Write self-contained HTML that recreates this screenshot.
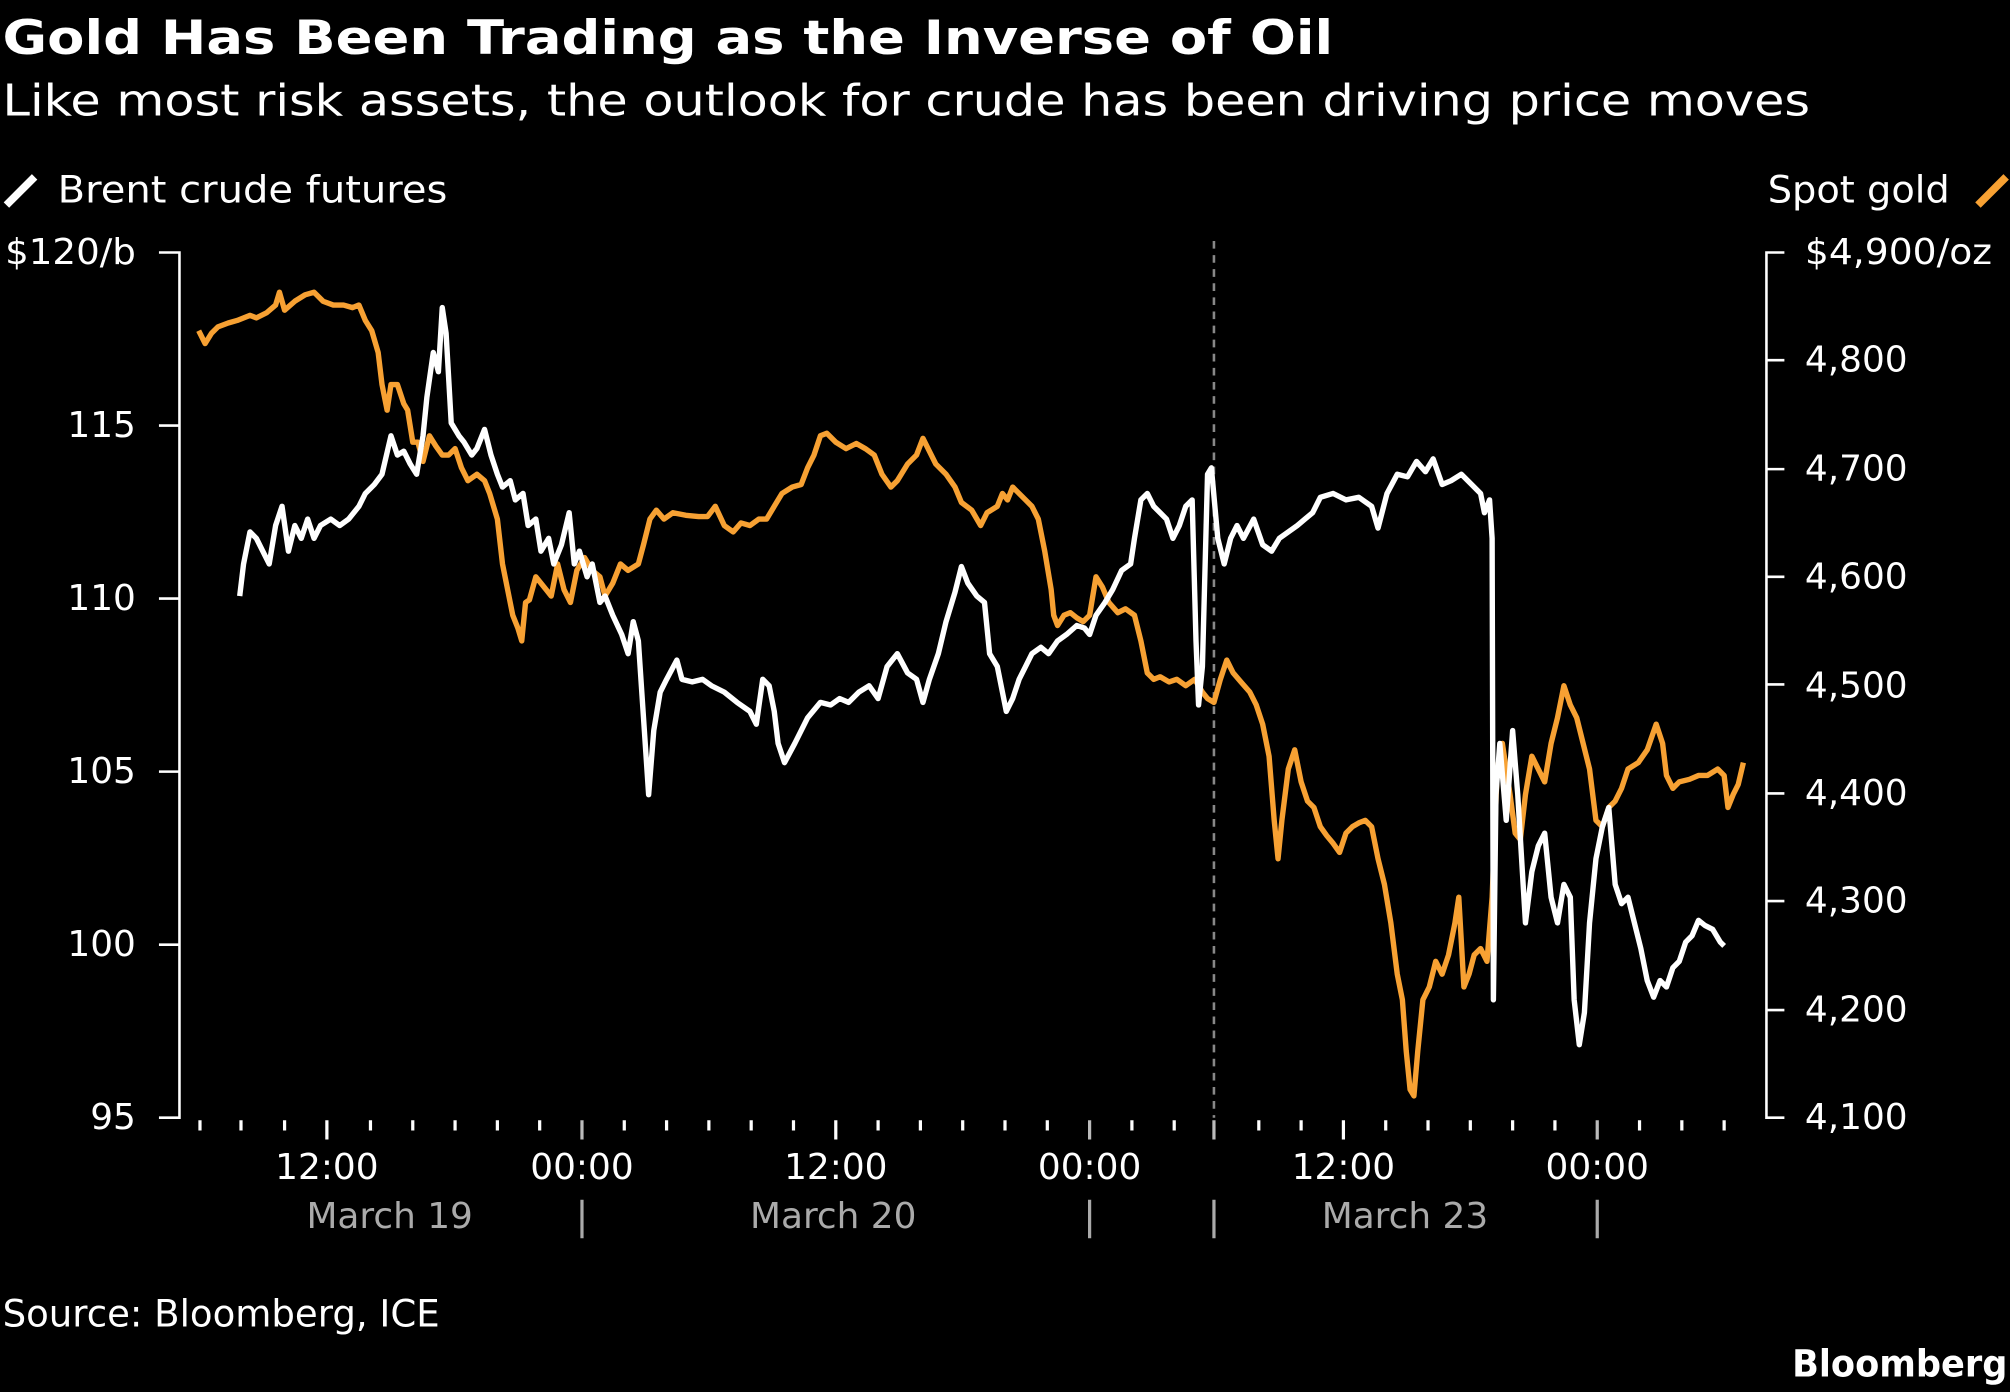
<!DOCTYPE html>
<html><head><meta charset="utf-8"><style>
html,body{margin:0;padding:0;background:#000;width:2010px;height:1392px;overflow:hidden}
svg{display:block}
text{font-family:"DejaVu Sans","Liberation Sans",sans-serif;fill:#fff}
</style></head><body>
<svg width="2010" height="1392" viewBox="0 0 1568 1086" preserveAspectRatio="none" xmlns="http://www.w3.org/2000/svg">
<rect width="1568" height="1086" fill="#000"/>
<text x="2" y="42" font-size="37" font-weight="bold" textLength="1038" lengthAdjust="spacingAndGlyphs">Gold Has Been Trading as the Inverse of Oil</text>
<text x="2" y="90" font-size="34" textLength="1410" lengthAdjust="spacingAndGlyphs">Like most risk assets, the outlook for crude has been driving price moves</text>
<line x1="5" y1="160" x2="27" y2="138" stroke="#fff" stroke-width="6"/>
<text x="45" y="158" font-size="29" textLength="304" lengthAdjust="spacingAndGlyphs">Brent crude futures</text>
<text x="1379" y="158" font-size="29" textLength="142" lengthAdjust="spacingAndGlyphs">Spot gold</text>
<line x1="1543" y1="160" x2="1565" y2="138" stroke="#f7a133" stroke-width="6"/>
<g font-size="28">
<text x="4" y="206" textLength="102" lengthAdjust="spacingAndGlyphs">$120/b</text>
<text x="106" y="341" text-anchor="end">115</text>
<text x="106" y="476" text-anchor="end">110</text>
<text x="106" y="611" text-anchor="end">105</text>
<text x="106" y="746" text-anchor="end">100</text>
<text x="106" y="881" text-anchor="end">95</text>
<text x="1408" y="206" textLength="146" lengthAdjust="spacingAndGlyphs">$4,900/oz</text>
<text x="1408" y="290">4,800</text>
<text x="1408" y="375">4,700</text>
<text x="1408" y="459">4,600</text>
<text x="1408" y="544">4,500</text>
<text x="1408" y="628">4,400</text>
<text x="1408" y="712">4,300</text>
<text x="1408" y="797">4,200</text>
<text x="1408" y="881">4,100</text>
</g>
<g stroke="#fff" stroke-width="2" fill="none">
<path d="M124 197H140V872H124M124 332H140M124 467H140M124 602H140M124 737H140"/>
<path d="M1392 197H1378V872H1392M1378 281H1392M1378 366H1392M1378 450H1392M1378 534H1392M1378 619H1392M1378 703H1392M1378 788H1392"/>
</g>
<g stroke="#fff" stroke-width="2.5">
<path d="M156 874v8M188 874v8M222 874v8M289 874v8M322 874v8M355 874v8M388 874v8M421 874v8M487 874v8M520 874v8M553 874v8M586 874v8M619 874v8M685 874v8M718 874v8M751 874v8M784 874v8M817 874v8M883 874v8M916 874v8M982 874v8M1015 874v8M1081 874v8M1114 874v8M1147 874v8M1180 874v8M1213 874v8M1279 874v8M1312 874v8M1345 874v8"/>
<path d="M255 874v15M652 874v15M1048 874v15"/>
<path d="M454 874v15M850 874v15M947 874v15M1246 874v15" stroke="#bbb"/>
</g>
<line x1="947" y1="188" x2="947" y2="872" stroke="#888" stroke-width="2" stroke-dasharray="6,5"/>
<g font-size="28" text-anchor="middle">
<text x="255" y="920">12:00</text><text x="454" y="920">00:00</text><text x="652" y="920">12:00</text><text x="850" y="920">00:00</text><text x="1048" y="920">12:00</text><text x="1246" y="920">00:00</text>
</g>
<g font-size="28" text-anchor="middle">
<text x="304" y="958" style="fill:#aaa">March 19</text><text x="650" y="958" style="fill:#aaa">March 20</text><text x="1096" y="958" style="fill:#aaa">March 23</text>
</g>
<g stroke="#aaa" stroke-width="2.5"><path d="M454 936v30M850 936v30M947 936v30M1246 936v30"/></g>
<polyline fill="none" stroke="#f7a133" stroke-width="4.2" stroke-linejoin="round" points="155,258 160,268 165,260 170,255 178,252 185,250 195,246 200,248 208,244 215,238 218,228 222,242 230,235 238,230 245,228 252,235 260,238 268,238 275,240 280,238 285,250 290,258 295,275 298,300 302,320 305,300 310,300 315,315 318,320 322,345 326,345 330,360 335,340 340,348 345,355 350,355 355,350 360,365 365,375 372,370 378,375 382,385 388,405 392,440 396,460 400,480 404,490 407,500 410,470 413,468 418,450 422,455 426,460 430,465 435,440 440,460 445,470 450,445 456,435 462,445 468,450 472,465 478,455 484,440 490,445 498,440 502,425 507,405 512,398 518,405 525,400 535,402 545,403 552,403 558,395 565,410 572,415 578,408 585,410 592,405 598,405 604,395 610,385 618,380 625,378 630,365 635,355 640,340 645,338 652,345 660,350 668,346 675,350 682,355 688,370 695,380 700,375 708,362 715,355 720,342 725,352 730,362 738,370 745,380 750,392 758,398 765,410 770,400 778,395 782,385 786,390 790,380 795,385 800,390 805,395 810,405 815,430 820,460 822,480 825,488 830,480 835,478 840,482 845,485 850,480 855,450 860,458 865,470 872,478 878,475 885,480 890,500 895,525 900,530 905,528 912,532 918,530 925,535 932,530 938,540 942,545 947,548 952,530 957,515 962,525 968,532 975,540 980,550 985,565 990,590 994,640 997,670 1000,640 1005,600 1010,585 1015,610 1020,625 1025,630 1030,645 1035,652 1040,658 1045,665 1050,650 1055,645 1060,642 1065,640 1070,645 1075,670 1080,690 1085,720 1090,760 1094,780 1097,820 1100,850 1103,855 1106,820 1110,780 1115,770 1120,750 1125,760 1130,745 1135,720 1138,700 1142,770 1146,760 1150,745 1155,740 1160,750 1164,700 1168,600 1172,580 1178,620 1182,650 1186,655 1190,620 1195,590 1200,600 1205,610 1210,580 1215,560 1220,535 1225,550 1230,560 1235,580 1240,600 1245,640 1250,645 1255,630 1260,625 1265,615 1270,600 1278,595 1285,585 1292,565 1297,580 1300,605 1305,615 1310,610 1318,608 1325,605 1332,605 1340,600 1345,605 1348,630 1352,620 1356,612 1360,595"/>
<polyline fill="none" stroke="#fff" stroke-width="4.2" stroke-linejoin="round" points="187,465 190,440 195,415 200,420 205,430 210,440 215,410 220,395 225,430 230,410 235,420 240,405 245,420 250,410 258,405 265,410 272,405 280,395 285,385 292,378 298,370 305,340 310,355 315,352 320,362 325,370 330,340 333,310 338,275 342,290 345,240 348,260 352,330 358,340 362,345 368,355 372,350 378,335 383,355 388,370 392,380 398,375 402,390 408,385 412,410 418,405 422,430 428,420 432,440 438,425 444,400 448,440 452,430 458,450 462,440 468,470 472,465 478,480 485,495 490,510 494,485 498,500 502,560 506,620 510,570 515,540 520,530 528,515 532,530 540,532 548,530 555,535 565,540 575,548 585,555 590,565 595,530 600,535 604,555 607,580 612,595 620,580 630,560 640,548 648,550 655,545 662,548 670,540 678,535 685,545 692,520 700,510 708,525 715,530 720,548 725,530 732,510 738,485 745,462 750,442 755,455 762,465 768,470 772,510 778,520 785,555 790,545 795,530 800,520 805,510 812,505 818,510 825,500 832,495 840,488 846,490 850,495 855,480 862,470 868,460 875,445 882,440 885,420 890,390 895,385 900,395 905,400 910,405 915,420 920,410 925,395 930,390 933,500 935,550 938,520 942,370 945,365 950,420 955,440 960,420 965,410 970,420 978,405 985,425 992,430 998,420 1005,415 1012,410 1018,405 1024,400 1030,388 1040,385 1050,390 1060,388 1070,395 1075,412 1082,385 1090,370 1098,372 1105,360 1112,368 1118,358 1125,378 1132,375 1140,370 1148,378 1155,385 1158,400 1162,390 1164,420 1165,780 1167,620 1170,580 1175,640 1180,570 1184,620 1190,720 1195,680 1200,660 1205,650 1210,700 1215,720 1220,690 1225,700 1228,780 1232,815 1236,790 1240,720 1245,670 1250,645 1255,630 1260,690 1265,705 1270,700 1275,720 1280,740 1285,765 1290,778 1295,765 1300,770 1305,755 1310,750 1315,735 1320,730 1325,718 1330,722 1336,725 1342,735 1345,738"/>
<text x="2" y="1035" font-size="29" textLength="341" lengthAdjust="spacingAndGlyphs">Source: Bloomberg, ICE</text>
<text x="1566" y="1074" font-size="29" font-weight="bold" text-anchor="end" textLength="168" lengthAdjust="spacingAndGlyphs">Bloomberg</text>
</svg>
</body></html>
